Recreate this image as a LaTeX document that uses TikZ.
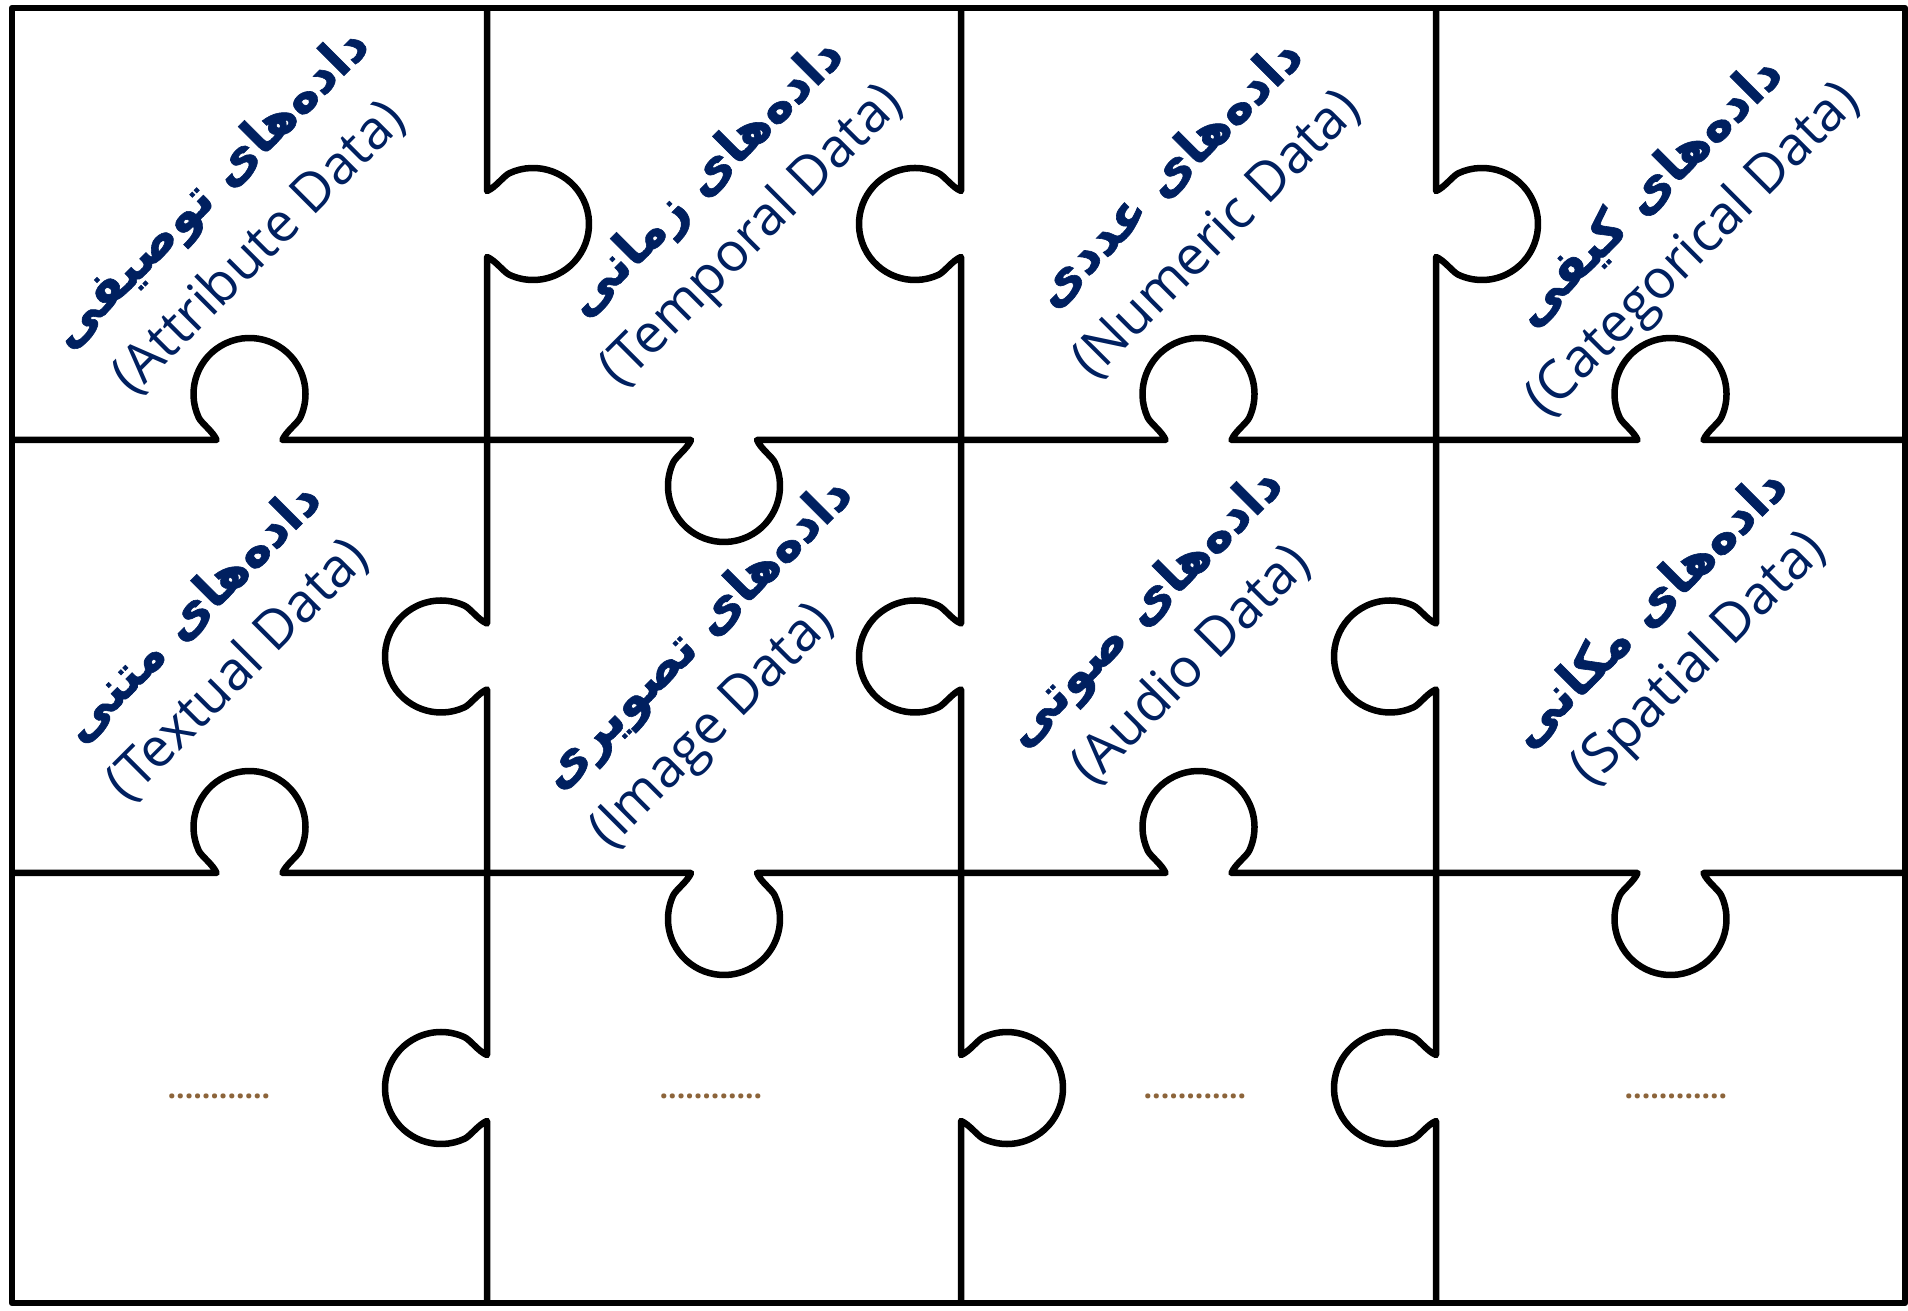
\documentclass[tikz,border=0pt]{standalone}
\usepackage{fontspec}
\setmainfont{Open Sans}
\newfontfamily\fafont[Script=Arabic,FakeBold=1.2]{DejaVu Sans Bold}
\TeXXeTstate=1
\definecolor{txtblue}{RGB}{0,32,96}
\definecolor{dotbrown}{RGB}{140,100,58}
\tikzset{
  border/.style={line width=6.5pt, black, line join=round},
  pics/seg/.style={code={
    \draw[border] (-#1,0) -- (-33,0) .. controls (-36,8) and (-48.2,16.9) .. (-50.75,22.33)
      arc[start angle=205, end angle=-25, radius=56]
      .. controls (48.2,16.9) and (36,8) .. (33,0) -- (#1,0);
  }},
  fatext/.style={text=txtblue, font=\fafont\fontsize{51}{56}\selectfont, rotate=45, inner sep=0pt},
  entext/.style={text=txtblue, font=\fontsize{54}{60}\selectfont, rotate=45, inner sep=0pt},
  dotstext/.style={text=dotbrown, font=\bfseries\fontsize{30}{32}\selectfont, inner sep=0pt}
}
\begin{document}
\begin{tikzpicture}[x=1pt, y=1pt]
\useasboundingbox (0,0) rectangle (1908,1310);
\fill[white] (0,0) rectangle (1908,1310);
% outer frame
\draw[border] (12,7) rectangle (1905,1302);
% vertical edges x=487
\pic[rotate=-90] at (487,1086) {seg=216};
\pic[rotate=90]  at (487,653.5) {seg=216.5};
\pic[rotate=90]  at (487,222) {seg=215};
% vertical edges x=961
\pic[rotate=90]  at (961,1086) {seg=216};
\pic[rotate=90]  at (961,653.5) {seg=216.5};
\pic[rotate=-90] at (961,222) {seg=215};
% vertical edges x=1436
\pic[rotate=-90] at (1436,1086) {seg=216};
\pic[rotate=90]  at (1436,653.5) {seg=216.5};
\pic[rotate=90]  at (1436,222) {seg=215};
% horizontal edges y=870
\pic[rotate=0]   at (249.5,870) {seg=237.5};
\pic[rotate=180] at (724,870) {seg=237};
\pic[rotate=0]   at (1198.5,870) {seg=237.5};
\pic[rotate=0]   at (1670.5,870) {seg=234.5};
% horizontal edges y=437
\pic[rotate=0]   at (249.5,437) {seg=237.5};
\pic[rotate=180] at (724,437) {seg=237};
\pic[rotate=0]   at (1198.5,437) {seg=237.5};
\pic[rotate=180] at (1670.5,437) {seg=234.5};
% labels row 1
\node[fatext] (fa1) at (211,1120) {\beginR داده‌های توصیفی\endR};
\node[entext] (en1) at (259,1062) {(Attribute Data)};
\node[fatext] (fa2) at (706,1131) {\beginR داده‌های زمانی\endR};
\node[entext] (en2) at (753,1073) {(Temporal Data)};
\node[fatext] (fa3) at (1168,1137) {\beginR داده‌های عددی\endR};
\node[entext] (en3) at (1217,1075) {(Numeric Data)};
\node[fatext] (fa4) at (1648,1118) {\beginR داده‌های  کیفی\endR};
\node[entext] (en4) at (1694,1059) {(Categorical Data)};
% labels row 2
\node[fatext] (fa5) at (191,698) {\beginR داده‌های متنی\endR};
\node[entext] (en5) at (238,640) {(Textual Data)};
\node[fatext] (fa6) at (698,675) {\beginR داده‌های تصویری\endR};
\node[entext] (en6) at (714,582) {(Image Data)};
\node[fatext] (fa7) at (1145,701) {\beginR داده‌های صوتی\endR};
\node[entext] (en7) at (1191,645) {(Audio Data)};
\node[fatext] (fa8) at (1648,702) {\beginR داده‌های مکانی\endR};
\node[entext] (en8) at (1700,650) {(Spatial Data)};
% row 3 dots
\node[dotstext] (d1) at (219,214) {............};
\node[dotstext] (d2) at (711,214) {............};
\node[dotstext] (d3) at (1195,214) {............};
\node[dotstext] (d4) at (1676,214) {............};
\end{tikzpicture}
\end{document}
